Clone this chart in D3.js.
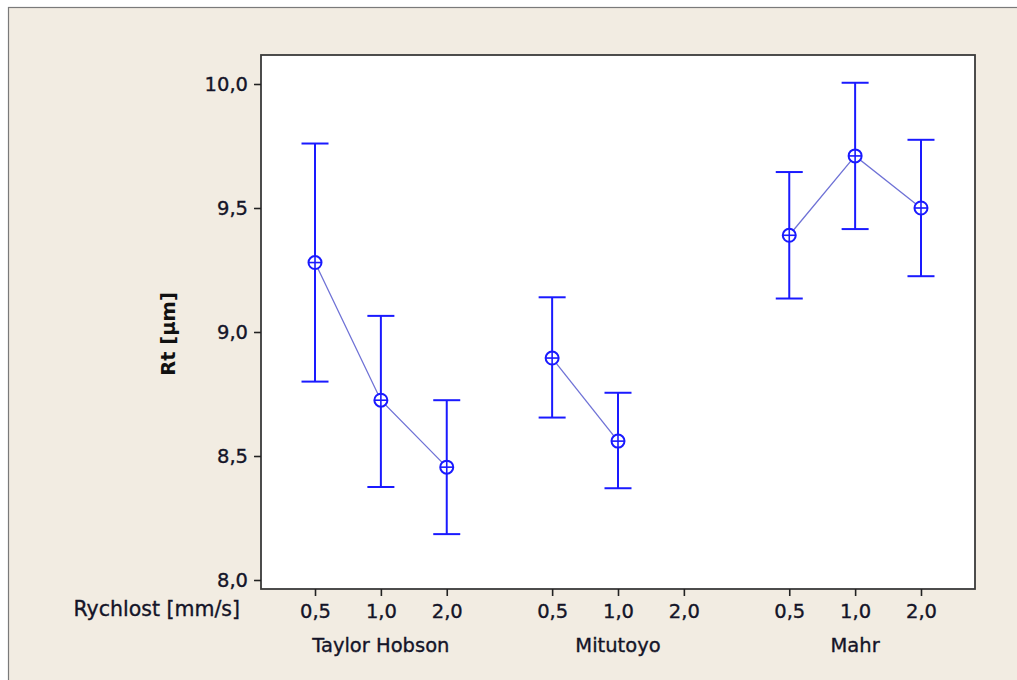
<!DOCTYPE html>
<html>
<head>
<meta charset="utf-8">
<script src="https://cdn.jsdelivr.net/npm/d3@7"></script>
<style>
html,body{margin:0;padding:0;background:#fff;}
svg{display:block;}
text{font-family:"DejaVu Sans",Verdana,sans-serif;}
</style>
</head>
<body>
<svg id="chart" width="1017" height="680"></svg>
<script>
// ---- data ----
const instruments = ["Taylor Hobson", "Mitutoyo", "Mahr"];
const speeds = ["0,5", "1,0", "2,0"];
const means = [
  [9.28, 8.725, 8.455],
  [8.895, 8.56, null],
  [9.39, 9.71, 9.50]
];
const upper = [
  [9.76, 9.065, 8.725],
  [9.14, 8.755, null],
  [9.645, 10.005, 9.775]
];
const lower = [
  [8.80, 8.375, 8.185],
  [8.655, 8.37, null],
  [9.135, 9.415, 9.225]
];
const yTicks = [8.0, 8.5, 9.0, 9.5, 10.0];
const yLabel = "Rt [µm]";
const xLabel = "Rychlost [mm/s]";

// ---- layout ----
const svg = d3.select("#chart");
const W = 1017, H = 680;
const plot = {left: 261, top: 55, right: 975, bottom: 589};
const stride = 3.6;
const pad = 0.82;
const textCol = "#141428";

svg.append("rect").attr("x", 0).attr("y", 0).attr("width", W).attr("height", H).attr("fill", "#ffffff");
svg.append("rect").attr("x", 8.5).attr("y", 7.5).attr("width", W).attr("height", H).attr("fill", "#f2ece2")
  .attr("stroke", "#7a7a7a").attr("stroke-width", 1.2);

const x = d3.scaleLinear()
  .domain([-pad, (instruments.length - 1) * stride + (speeds.length - 1) + pad])
  .range([plot.left, plot.right]);
const y = d3.scaleLinear().domain([8, 10]).range([580, 84]);

svg.append("rect").attr("x", plot.left).attr("y", plot.top)
  .attr("width", plot.right - plot.left).attr("height", plot.bottom - plot.top)
  .attr("fill", "#ffffff").attr("stroke", "#3a3a3a").attr("stroke-width", 1.8);

const fmt = d => d3.format(".1f")(d).replace(".", ",");
const styleText = sel => sel.attr("font-size", 19.5).attr("fill", textCol)
  .attr("stroke", textCol).attr("stroke-width", 0.35)
  .attr("font-family", "DejaVu Sans, Verdana, sans-serif");

// y axis
const yAxis = d3.axisLeft(y).tickValues(yTicks).tickFormat(fmt).tickSize(7).tickPadding(6);
const gy = svg.append("g").attr("transform", `translate(${plot.left},0)`).call(yAxis);
gy.select(".domain").remove();
gy.selectAll(".tick line").attr("stroke", "#222").attr("stroke-width", 1.6);
styleText(gy.selectAll(".tick text"));

// x axis ticks
const xPositions = [];
instruments.forEach((inst, g) => speeds.forEach((s, i) => xPositions.push({g, i, v: g * stride + i, label: s})));
const xAxis = d3.axisBottom(x).tickValues(xPositions.map(d => d.v))
  .tickFormat((d, k) => xPositions[k].label).tickSize(7).tickPadding(8);
const gx = svg.append("g").attr("transform", `translate(0,${plot.bottom})`).call(xAxis);
gx.select(".domain").remove();
gx.selectAll(".tick line").attr("stroke", "#222").attr("stroke-width", 1.6);
styleText(gx.selectAll(".tick text"));

// group labels
styleText(svg.selectAll("text.grp").data(instruments).enter().append("text")
  .attr("class", "grp")
  .attr("x", (d, g) => x(g * stride + 1))
  .attr("y", 652)
  .attr("text-anchor", "middle")
  .text(d => d));

// x label
styleText(svg.append("text").attr("x", 240).attr("y", 616).attr("text-anchor", "end").text(xLabel))
  .attr("font-size", 20.5);

// y label
svg.append("text").attr("transform", `translate(175,334) rotate(-90)`)
  .attr("text-anchor", "middle").attr("font-size", 19.5).attr("font-weight", "bold")
  .attr("fill", "#111").text(yLabel);

// data
const blue = "#1a1aff";
const capHalf = 13.5;
instruments.forEach((inst, g) => {
  const pts = [];
  speeds.forEach((s, i) => {
    if (means[g][i] == null) return;
    pts.push({xv: g * stride + i, m: means[g][i], u: upper[g][i], l: lower[g][i]});
  });
  // connecting line
  svg.append("path").datum(pts)
    .attr("d", d3.line().x(d => x(d.xv)).y(d => y(d.m)))
    .attr("fill", "none").attr("stroke", "#6f72d6").attr("stroke-width", 1.3);
  const gg = svg.append("g");
  pts.forEach(d => {
    const cx = x(d.xv);
    gg.append("line").attr("x1", cx).attr("x2", cx).attr("y1", y(d.u)).attr("y2", y(d.l))
      .attr("stroke", blue).attr("stroke-width", 2);
    [d.u, d.l].forEach(v => gg.append("line")
      .attr("x1", cx - capHalf).attr("x2", cx + capHalf).attr("y1", y(v)).attr("y2", y(v))
      .attr("stroke", blue).attr("stroke-width", 2));
    const cy = y(d.m);
    gg.append("circle").attr("cx", cx).attr("cy", cy).attr("r", 6.5)
      .attr("fill", "#fff").attr("stroke", blue).attr("stroke-width", 2);
    gg.append("line").attr("x1", cx - 6.5).attr("x2", cx + 6.5).attr("y1", cy).attr("y2", cy)
      .attr("stroke", blue).attr("stroke-width", 1.6);
    gg.append("line").attr("x1", cx).attr("x2", cx).attr("y1", cy - 6.5).attr("y2", cy + 6.5)
      .attr("stroke", blue).attr("stroke-width", 1.6);
  });
});
</script>
</body>
</html>
